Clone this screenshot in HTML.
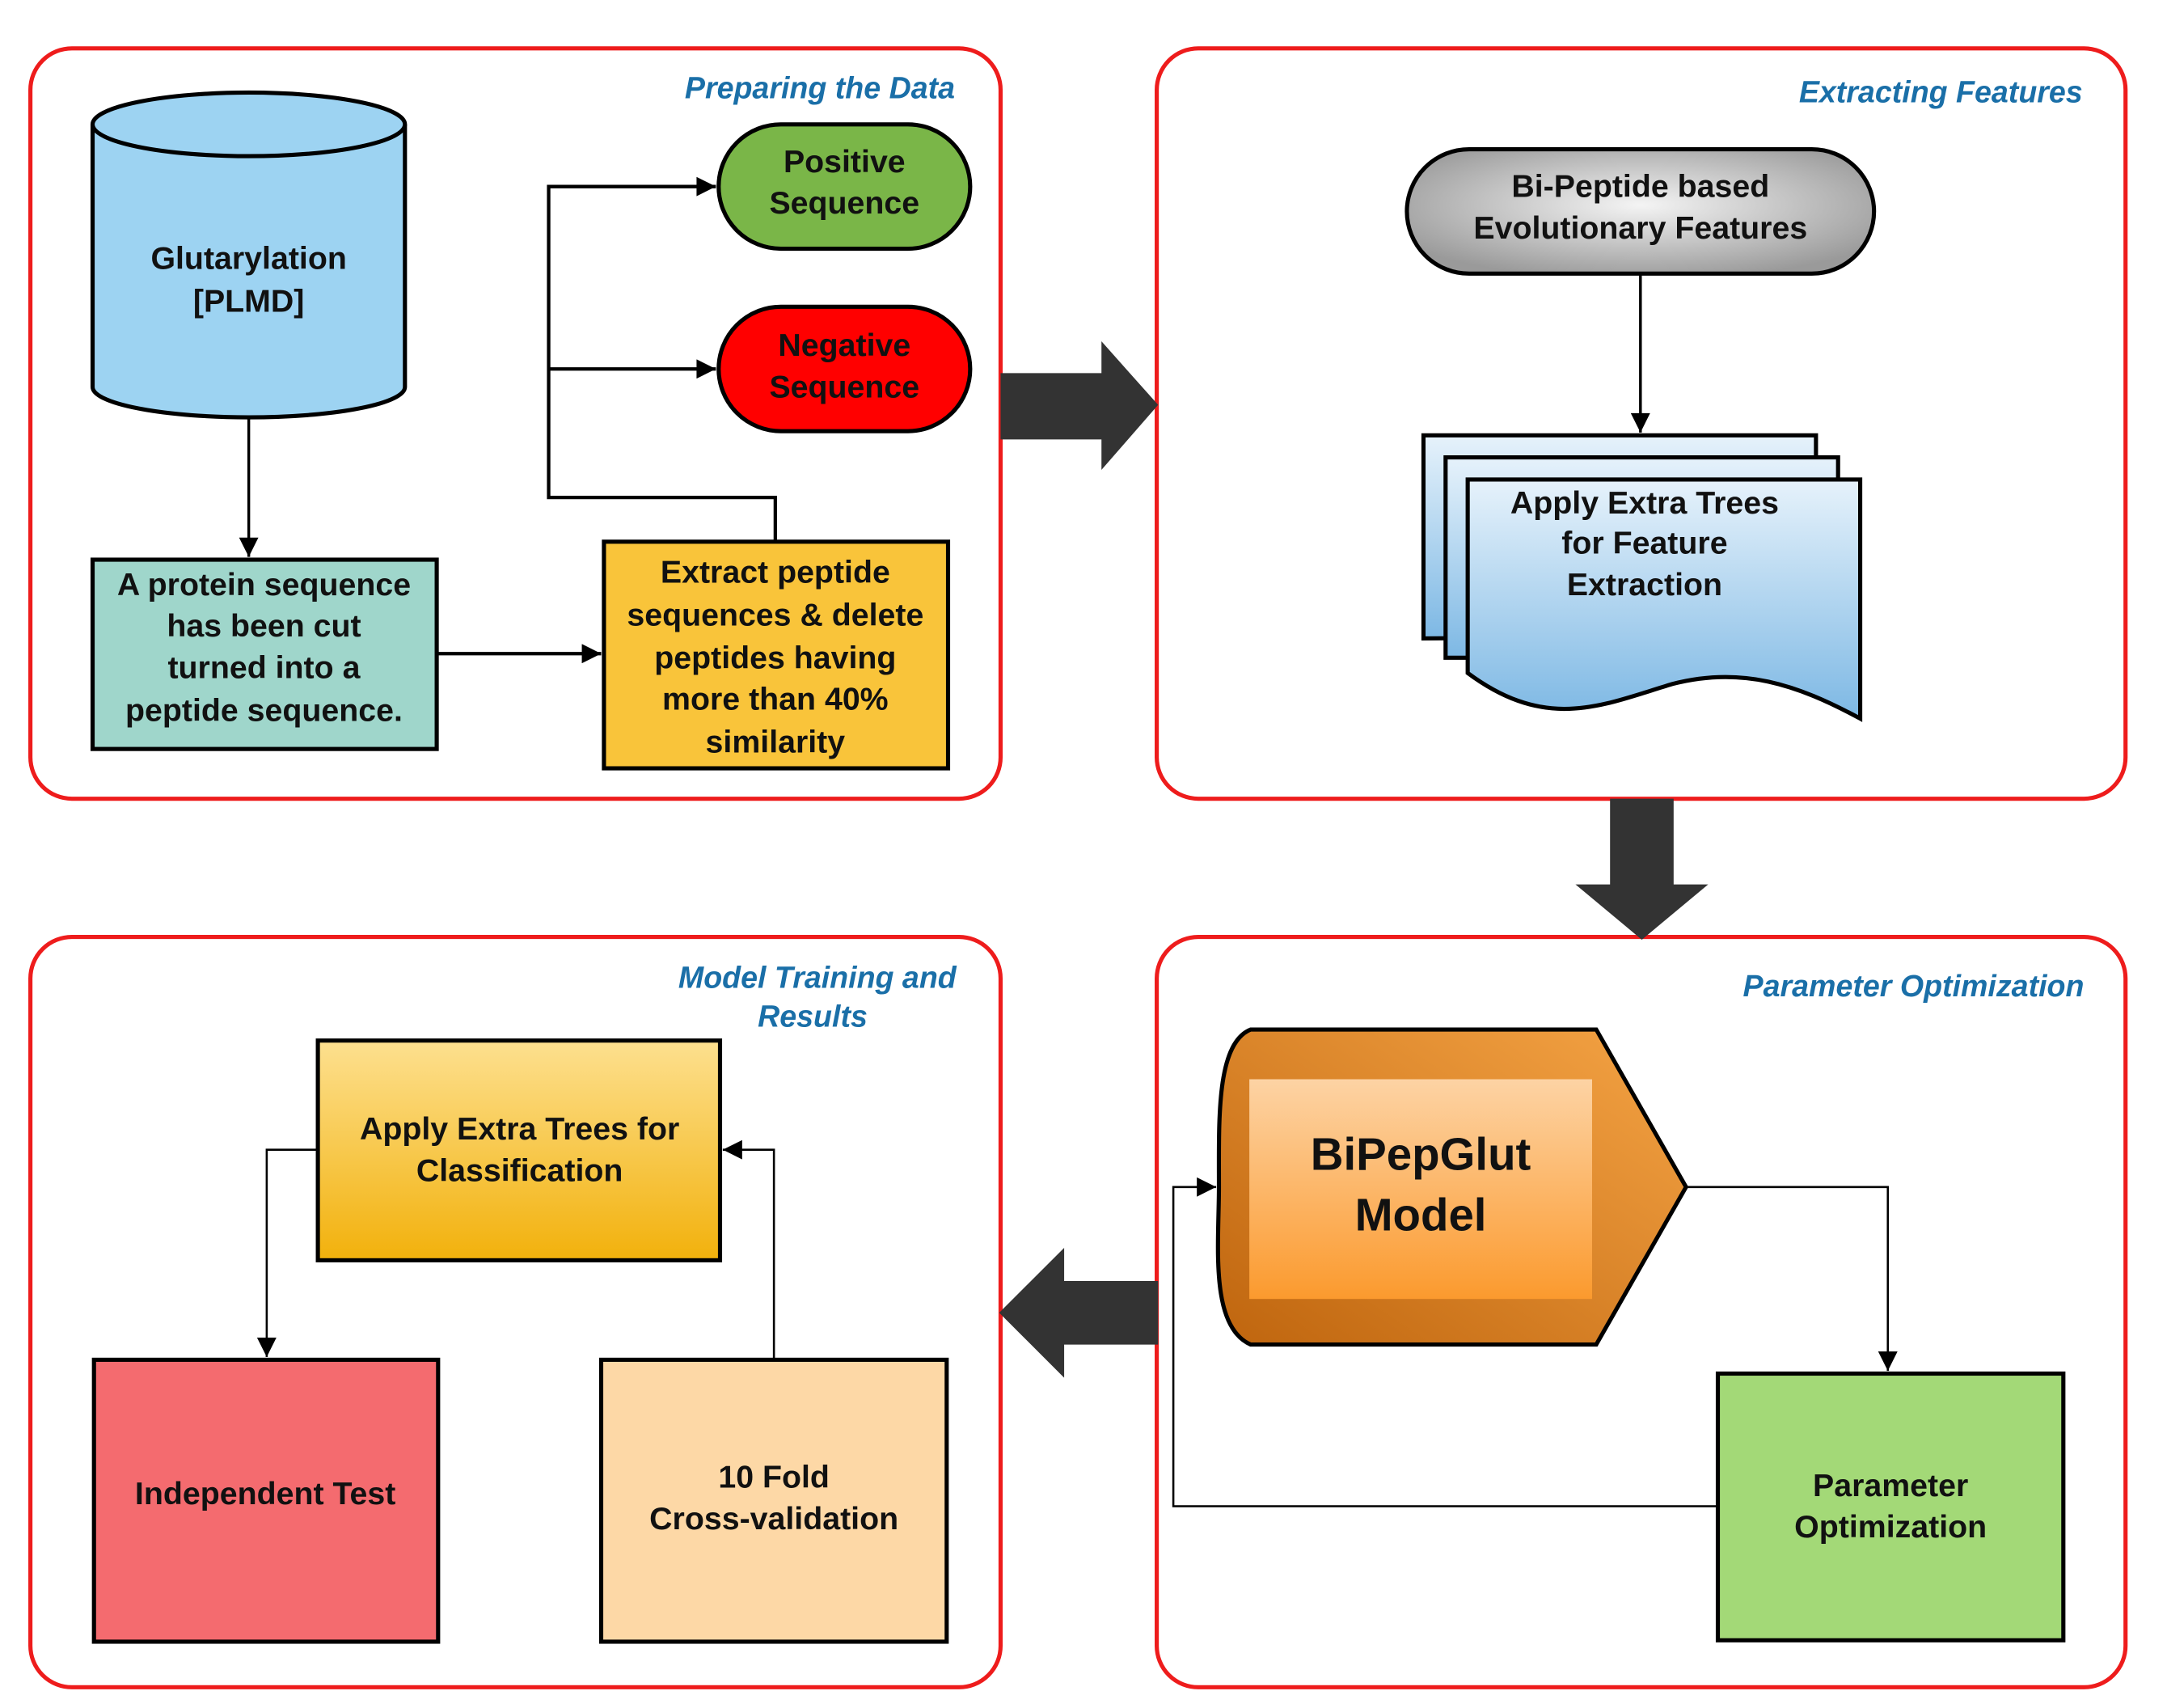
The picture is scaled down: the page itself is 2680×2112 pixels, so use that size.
<!DOCTYPE html>
<html><head><meta charset="utf-8"><style>html,body{margin:0;padding:0;background:#fff}svg{display:block}</style></head>
<body>
<svg width="2680" height="2112" viewBox="0 0 1568 1236" preserveAspectRatio="none" xmlns="http://www.w3.org/2000/svg" font-family="Liberation Sans, Arial, sans-serif" font-weight="bold">
<defs>
<marker id="ah2" viewBox="0 0 10 10" refX="10" refY="5" markerWidth="18" markerHeight="14" orient="auto" markerUnits="userSpaceOnUse"><path d="M0,0L10,5L0,10z" fill="#000"/></marker>
<radialGradient id="gray" cx="0.5" cy="0.45" r="0.6"><stop offset="0" stop-color="#f4f4f4"/><stop offset="1" stop-color="#9a9a9a"/></radialGradient>
<linearGradient id="blue" x1="0" y1="0" x2="0" y2="1"><stop offset="0" stop-color="#e6f2fb"/><stop offset="1" stop-color="#7db8e4"/></linearGradient>
<linearGradient id="yel" x1="0" y1="0" x2="0" y2="1"><stop offset="0" stop-color="#fde08f"/><stop offset="1" stop-color="#f2b10c"/></linearGradient>
<linearGradient id="org" x1="0" y1="1" x2="1" y2="0"><stop offset="0" stop-color="#bf650e"/><stop offset="1" stop-color="#f5a445"/></linearGradient>
<linearGradient id="org2" x1="0" y1="0" x2="0" y2="1"><stop offset="0" stop-color="#fdd3a4"/><stop offset="1" stop-color="#fb9a2e"/></linearGradient>
</defs>
<g fill="none" stroke="#ee1c1c" stroke-width="3">
<rect x="22" y="35" width="702" height="543" rx="30"/>
<rect x="837" y="35" width="701" height="543" rx="30"/>
<rect x="22" y="678" width="702" height="543" rx="30"/>
<rect x="837" y="678" width="701" height="543" rx="30"/>
</g>
<g fill="#1a6fa8" font-style="italic" font-size="22" text-anchor="end">
<text x="691" y="71">Preparing the Data</text>
<text x="1507" y="74">Extracting Features</text>
<text x="1508" y="721">Parameter Optimization</text>
<text x="692" y="715">Model Training and</text>
<text x="588" y="743" text-anchor="middle">Results</text>
</g>
<path d="M724,270H797V247L838,293L797,340V318H724Z" fill="#333"/>
<path d="M1165,578H1211V640H1236L1188,680L1140,640H1165Z" fill="#333"/>
<path d="M838,927H770V903L723,950L770,997V973H838Z" fill="#333"/>
<path d="M67,90V280A113,22 0 0 0 293,280V90" fill="#9dd3f2" stroke="#000" stroke-width="3"/>
<ellipse cx="180" cy="90" rx="113" ry="23" fill="#9dd3f2" stroke="#000" stroke-width="3"/>
<g font-size="23" text-anchor="middle" dominant-baseline="central" fill="#111">
<text x="180" y="187">Glutarylation</text><text x="180" y="218">[PLMD]</text>
</g>
<line x1="180" y1="302" x2="180" y2="403" stroke="#000" stroke-width="2" marker-end="url(#ah2)"/>
<rect x="67" y="405" width="249" height="137" fill="#9fd6cb" stroke="#000" stroke-width="3"/>
<g font-size="23" text-anchor="middle" dominant-baseline="central" fill="#111">
<text x="191" y="423">A protein sequence</text><text x="191" y="453">has been cut</text><text x="191" y="483">turned into a</text><text x="191" y="514">peptide sequence.</text>
</g>
<line x1="316" y1="473" x2="435" y2="473" stroke="#000" stroke-width="2.5" marker-end="url(#ah2)"/>
<rect x="437" y="392" width="249" height="164" fill="#f9c43a" stroke="#000" stroke-width="3"/>
<g font-size="23" text-anchor="middle" dominant-baseline="central" fill="#111">
<text x="561" y="414">Extract peptide</text><text x="561" y="445">sequences &amp; delete</text><text x="561" y="476">peptides having</text><text x="561" y="506">more than 40%</text><text x="561" y="537">similarity</text>
</g>
<path d="M561,392V360H397V135H518" fill="none" stroke="#000" stroke-width="2.5" marker-end="url(#ah2)"/>
<path d="M397,267H518" fill="none" stroke="#000" stroke-width="2.5" marker-end="url(#ah2)"/>
<rect x="520" y="90" width="182" height="90" rx="45" fill="#7ab648" stroke="#000" stroke-width="3"/>
<rect x="520" y="222" width="182" height="90" rx="45" fill="#ff0000" stroke="#000" stroke-width="3"/>
<g font-size="23" text-anchor="middle" dominant-baseline="central" fill="#111">
<text x="611" y="117">Positive</text><text x="611" y="147">Sequence</text>
<text x="611" y="250">Negative</text><text x="611" y="280">Sequence</text>
</g>
<rect x="1018" y="108" width="338" height="90" rx="45" ry="45" fill="url(#gray)" stroke="#000" stroke-width="3"/>
<g font-size="23" text-anchor="middle" dominant-baseline="central" fill="#111">
<text x="1187" y="135">Bi-Peptide based</text><text x="1187" y="165">Evolutionary Features</text>
</g>
<line x1="1187" y1="198" x2="1187" y2="313" stroke="#000" stroke-width="2" marker-end="url(#ah2)"/>
<path d="M1030,315H1314V460L1030,462Z" fill="url(#blue)" stroke="#000" stroke-width="3"/>
<path d="M1046,331H1330V476L1046,476Z" fill="url(#blue)" stroke="#000" stroke-width="3"/>
<path d="M1062,347H1346V520C1300,495 1260,482 1210,495C1160,510 1120,530 1062,487Z" fill="url(#blue)" stroke="#000" stroke-width="3"/>
<g font-size="23" text-anchor="middle" dominant-baseline="central" fill="#111">
<text x="1190" y="364">Apply Extra Trees</text><text x="1190" y="393">for Feature</text><text x="1190" y="423">Extraction</text>
</g>
<path d="M905,745H1155L1220,859L1155,973H905C875,960 882,900 882,859C882,810 880,755 905,745Z" fill="url(#org)" stroke="#000" stroke-width="3"/>
<rect x="904" y="781" width="248" height="159" fill="url(#org2)"/>
<g font-size="33" text-anchor="middle" dominant-baseline="central" fill="#111">
<text x="1028" y="835">BiPepGlut</text><text x="1028" y="879">Model</text>
</g>
<path d="M1220,859H1366V992" fill="none" stroke="#000" stroke-width="1.5" marker-end="url(#ah2)"/>
<rect x="1243" y="994" width="250" height="193" fill="#a3d977" stroke="#000" stroke-width="3"/>
<g font-size="23" text-anchor="middle" dominant-baseline="central" fill="#111">
<text x="1368" y="1075">Parameter</text><text x="1368" y="1105">Optimization</text>
</g>
<path d="M1243,1090H849V859H880" fill="none" stroke="#000" stroke-width="1.5" marker-end="url(#ah2)"/>
<rect x="230" y="753" width="291" height="159" fill="url(#yel)" stroke="#000" stroke-width="3"/>
<g font-size="23" text-anchor="middle" dominant-baseline="central" fill="#111">
<text x="376" y="817">Apply Extra Trees for</text><text x="376" y="847">Classification</text>
</g>
<path d="M230,832H193V982" fill="none" stroke="#000" stroke-width="1.5" marker-end="url(#ah2)"/>
<path d="M560,983V832H523" fill="none" stroke="#000" stroke-width="1.5" marker-end="url(#ah2)"/>
<rect x="68" y="984" width="249" height="204" fill="#f46b6f" stroke="#000" stroke-width="3"/>
<rect x="435" y="984" width="250" height="204" fill="#fdd8a6" stroke="#000" stroke-width="3"/>
<g font-size="23" text-anchor="middle" dominant-baseline="central" fill="#111">
<text x="192" y="1081">Independent Test</text>
<text x="560" y="1069">10 Fold</text><text x="560" y="1099">Cross-validation</text>
</g>
</svg>
</body></html>
